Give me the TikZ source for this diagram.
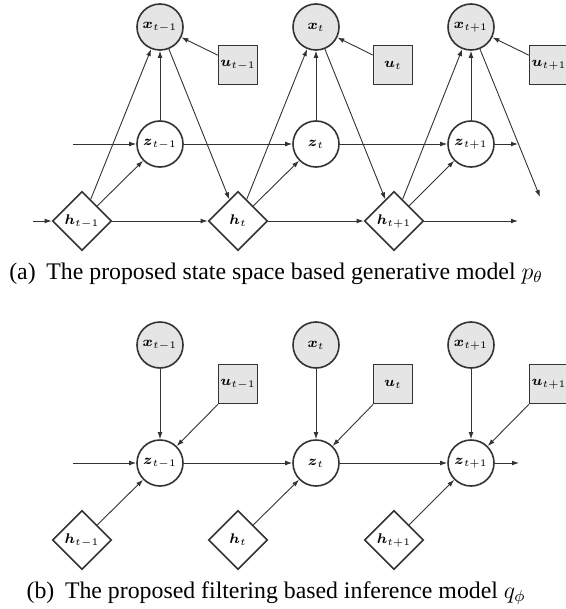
\documentclass[tikz,border=0pt]{standalone}
\usepackage{amsmath}
\usepackage{fontspec}
\setmainfont{Liberation Serif}
\usetikzlibrary{shapes.geometric,arrows.meta}
\begin{document}
\begin{tikzpicture}[x=.5pt,y=-.5pt,>={Latex[length=3.5pt,width=2.4pt]},
    obs/.style={circle,draw=black!80,line width=.8pt,fill=black!10,minimum size=23pt,inner sep=0pt,font=\scriptsize},
    lat/.style={obs,fill=white},
    inp/.style={rectangle,draw=black!80,line width=.8pt,fill=black!10,minimum size=19.5pt,inner sep=0pt,font=\scriptsize},
    det/.style={diamond,draw=black!80,line width=.8pt,fill=white,minimum size=29.5pt,inner sep=0pt,font=\scriptsize},
    edge/.style={->,draw=black!80,line width=.45pt},
    captxt/.style={anchor=base,inner sep=0pt,font=\fontsize{11.9}{14}\selectfont}]
  \useasboundingbox(0,0)rectangle(566,609);
  % (a) generative model
  \node(xa1) at(160,27)[obs]{$\boldsymbol{x}_{t-1}$};
  \node(xa2) at(316,27)[obs]{$\boldsymbol{x}_{t}$};
  \node(xa3) at(471,27)[obs]{$\boldsymbol{x}_{t+1}$};
  \node(ua1) at(238,65)[inp]{$\boldsymbol{u}_{t-1}$};
  \node(ua2) at(393,65)[inp]{$\boldsymbol{u}_{t}$};
  \node(ua3) at(549,65)[inp]{$\boldsymbol{u}_{t+1}$};
  \node(za1) at(160,144)[lat]{$\boldsymbol{z}_{t-1}$};
  \node(za2) at(316,144)[lat]{$\boldsymbol{z}_{t}$};
  \node(za3) at(471,144)[lat]{$\boldsymbol{z}_{t+1}$};
  \node(ha1) at(82,221)[det]{$\boldsymbol{h}_{t-1}$};
  \node(ha2) at(238,221)[det]{$\boldsymbol{h}_{t}$};
  \node(ha3) at(394,221)[det]{$\boldsymbol{h}_{t+1}$};
  \coordinate(hain) at(33,221);
  \coordinate(zain) at(73,144);
  \coordinate(haout) at(518,221);
  \coordinate(zaout) at(518,144);
  \coordinate(xaout) at(540,197);
  \draw[edge](hain)--(ha1);
  \draw[edge](zain)--(za1);
  \draw[edge](ha1)--(xa1);
  \draw[edge](ha1)--(za1);
  \draw[edge](za1)--(xa1);
  \draw[edge](ua1)--(xa1);
  \draw[edge](xa1)--(ha2);
  \draw[edge](za1)--(za2);
  \draw[edge](ha1)--(ha2);
  \draw[edge](ha2)--(xa2);
  \draw[edge](ha2)--(za2);
  \draw[edge](za2)--(xa2);
  \draw[edge](ua2)--(xa2);
  \draw[edge](xa2)--(ha3);
  \draw[edge](za2)--(za3);
  \draw[edge](ha2)--(ha3);
  \draw[edge](ha3)--(xa3);
  \draw[edge](ha3)--(za3);
  \draw[edge](za3)--(xa3);
  \draw[edge](ua3)--(xa3);
  \draw[edge](xa3)--(xaout);
  \draw[edge](za3)--(zaout);
  \draw[edge](ha3)--(haout);
  \node(capa) at(276,279)[captxt]{(a)\hspace{.45em}The proposed state space based generative model $p_\theta$};
  % (b) inference model
  \node(xb1) at(160,345)[obs]{$\boldsymbol{x}_{t-1}$};
  \node(xb2) at(316,345)[obs]{$\boldsymbol{x}_{t}$};
  \node(xb3) at(471,345)[obs]{$\boldsymbol{x}_{t+1}$};
  \node(ub1) at(238,384)[inp]{$\boldsymbol{u}_{t-1}$};
  \node(ub2) at(393,384)[inp]{$\boldsymbol{u}_{t}$};
  \node(ub3) at(549,384)[inp]{$\boldsymbol{u}_{t+1}$};
  \node(zb1) at(160,463)[lat]{$\boldsymbol{z}_{t-1}$};
  \node(zb2) at(316,463)[lat]{$\boldsymbol{z}_{t}$};
  \node(zb3) at(471,463)[lat]{$\boldsymbol{z}_{t+1}$};
  \node(hb1) at(82,540)[det]{$\boldsymbol{h}_{t-1}$};
  \node(hb2) at(238,540)[det]{$\boldsymbol{h}_{t}$};
  \node(hb3) at(394,540)[det]{$\boldsymbol{h}_{t+1}$};
  \coordinate(zbin) at(73,463);
  \coordinate(zbout) at(519,463);
  \draw[edge](zbin)--(zb1);
  \draw[edge](xb1)--(zb1);
  \draw[edge](ub1)--(zb1);
  \draw[edge](hb1)--(zb1);
  \draw[edge](zb1)--(zb2);
  \draw[edge](xb2)--(zb2);
  \draw[edge](ub2)--(zb2);
  \draw[edge](hb2)--(zb2);
  \draw[edge](zb2)--(zb3);
  \draw[edge](xb3)--(zb3);
  \draw[edge](ub3)--(zb3);
  \draw[edge](hb3)--(zb3);
  \draw[edge](zb3)--(zbout);
  \node(capb) at(276,598)[captxt]{(b)\hspace{.45em}The proposed filtering based inference model $q_\phi$};
\end{tikzpicture}
\end{document}
